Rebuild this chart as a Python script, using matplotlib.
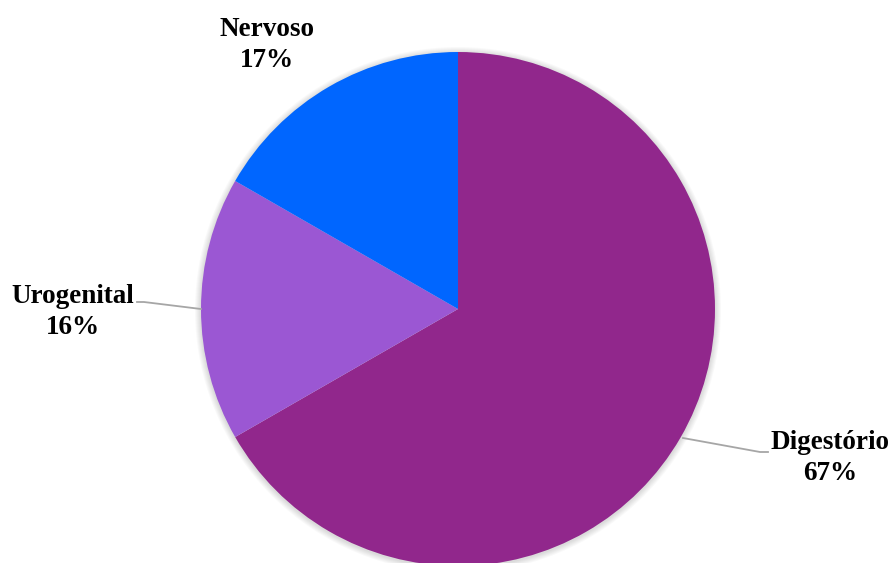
import matplotlib.pyplot as plt
from matplotlib.patches import Circle

labels = ["Digestório", "Urogenital", "Nervoso"]
shares = [66.7, 16.6, 16.7]
pct_labels = ["67%", "16%", "17%"]
colors = ["#91278C", "#9B57D3", "#0066FF"]

W, H = 891, 563
cx, cy, r = 458, H - 309, 257

fig = plt.figure(figsize=(W / 100, H / 100), dpi=100)
ax = fig.add_axes([0, 0, 1, 1])

# soft shadow behind the pie
for i in range(6):
    ax.add_patch(Circle((cx, cy - 1), r + 1 + i, color="black", alpha=0.025, lw=0, zorder=0))

ax.pie(shares, colors=colors, startangle=90, counterclock=False,
       center=(cx, cy), radius=r, frame=True,
       wedgeprops=dict(linewidth=0))
ax.set_xlim(0, W)
ax.set_ylim(0, H)
ax.set_aspect("equal")
ax.axis("off")

font = dict(family=["Liberation Serif", "DejaVu Serif"], fontsize=19.5, fontweight="bold",
            ha="center", va="center", linespacing=1.27)
pos = {"Digestório": (830, H - 458), "Urogenital": (73, H - 312), "Nervoso": (267, H - 45)}
for lab, p in zip(labels, pct_labels):
    x, y = pos[lab]
    ax.text(x, y, f"{lab}\n{p}", **font)

# leader lines
ax.plot([137, 144, 201], [H - 302, H - 302, H - 309], color="#A6A6A6", lw=1.3)
ax.plot([683, 760, 768], [H - 438, H - 452, H - 452], color="#A6A6A6", lw=1.3)

fig.savefig("out.png", dpi=100)
